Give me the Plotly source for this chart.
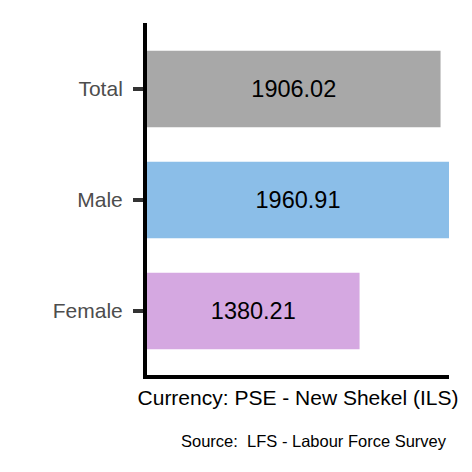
import plotly.graph_objects as go

# data
groups = ['Female', 'Male', 'Total']
earnings = [1380.21, 1960.91, 1906.02]
bar_colors = ['#d5a8e1', '#8bbee8', '#a8a8a8']

fig = go.Figure(go.Bar(
    y=groups,
    x=earnings,
    orientation='h',
    width=0.69,
    marker=dict(color=bar_colors, line=dict(width=0)),
    text=[f'{v:.2f}' for v in earnings],
    textposition='inside',
    insidetextanchor='middle',
    textfont=dict(family='Liberation Sans', size=23.5, color='black'),
    hoverinfo='x+y',
))

# page body has an 8px margin, so the figure is a bit smaller than the window
fig.update_layout(
    width=464, height=464,
    margin=dict(l=139, r=23, t=15, b=97),
    paper_bgcolor='white', plot_bgcolor='white',
    showlegend=False,
    font=dict(family='Liberation Sans'),
    uniformtext=dict(minsize=23),
    xaxis=dict(range=[0, max(earnings)], showgrid=False, zeroline=False,
               showticklabels=False, ticks='',
               showline=True, linecolor='black', linewidth=4,
               title=dict(text='Currency: PSE - New Shekel (ILS)',
                          font=dict(size=21, color='black'), standoff=13)),
    yaxis=dict(range=[-0.577, 2.595], showgrid=False, zeroline=False,
               showline=True, linecolor='black', linewidth=4,
               ticks='outside', ticklen=10, tickwidth=4, tickcolor='#333333',
               ticklabelstandoff=6,
               tickfont=dict(size=21, color='#4d4d4d')),
    annotations=[dict(text='Source:  LFS - Labour Force Survey',
                      xref='paper', yref='paper', x=1, y=-0.157,
                      xanchor='right', yanchor='top', showarrow=False,
                      font=dict(size=16.5, color='black'))],
)

fig.write_html('out.html')
